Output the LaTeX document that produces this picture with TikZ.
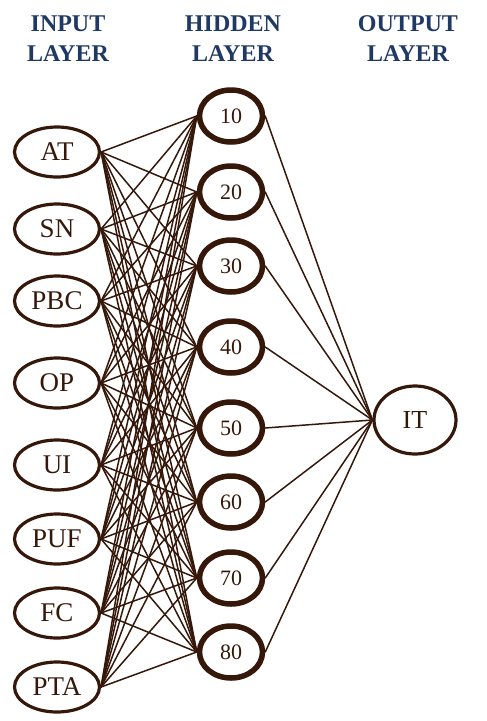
\documentclass[tikz,border=0pt]{standalone}
\usepackage{fontspec}
\setmainfont{Liberation Serif}
\usetikzlibrary{shapes.geometric,shadows}
\definecolor{brn}{HTML}{35180A}
\definecolor{hdblue}{HTML}{1F3864}
\tikzset{
  innode/.style={ellipse,draw=brn,line width=3.2pt,fill=white,minimum width=85pt,minimum height=50pt,inner sep=0pt,text=brn,font=\fontsize{27}{27}\selectfont},
  hidnode/.style={ellipse,draw=brn,line width=5.5pt,fill=white,minimum width=63pt,minimum height=52pt,inner sep=0pt,text=brn,font=\fontsize{22}{22}\selectfont,drop shadow={opacity=0.25,shadow xshift=1.5pt,shadow yshift=-2.5pt}},
  outnode/.style={ellipse,draw=brn,line width=3.2pt,fill=white,minimum width=82pt,minimum height=68pt,inner sep=0pt,text=brn,font=\fontsize{26}{26}\selectfont},
  layertitle/.style={text=hdblue,font=\fontsize{24}{30}\selectfont\bfseries,align=center},
  link/.style={draw=brn,line width=1.5pt}
}
\begin{document}
\begin{tikzpicture}[x=1pt,y=-1pt,line cap=round]
  \useasboundingbox (0,0) rectangle (487,721);
  % titles
  \node[layertitle] (tin) at (68,39) {INPUT\\LAYER};
  \node[layertitle] (thid) at (233,39) {HIDDEN\\LAYER};
  \node[layertitle] (tout) at (408,39) {OUTPUT\\LAYER};
  % input layer
  \foreach \lab/\y [count=\i] in {AT/152,SN/229,PBC/301,OP/383,UI/465,PUF/539,FC/613,PTA/687}
    \node[innode] (in\i) at (57,\y) {\lab};
  % hidden layer
  \foreach \lab/\y [count=\j] in {10/116,20/192,30/266,40/347,50/428,60/502,70/578,80/652}
    \node[hidnode] (hid\j) at (231,\y) {\lab};
  % output layer
  \node[outnode] (out) at (415,420) {IT};
  % connections
  \foreach \i in {1,...,8}{
    \foreach \j in {1,...,8}
      \draw[link] (in\i.east) -- (hid\j.west);
    \draw[link] (hid\i.east) -- (out.west);}
\end{tikzpicture}
\end{document}
